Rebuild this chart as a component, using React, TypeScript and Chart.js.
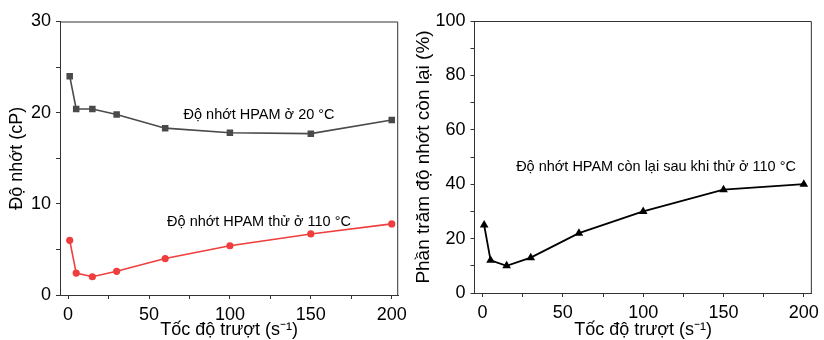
import React, { useEffect, useRef } from 'react';
import { Chart, registerables } from 'chart.js';

Chart.register(...registerables);

// ---- Data ----
const shearRates = [1, 5, 15, 30, 60, 100, 150, 200];
const viscosity20C = [24.0, 20.4, 20.4, 19.8, 18.3, 17.8, 17.7, 19.2];
const viscosity110C = [6.0, 2.4, 2.0, 2.6, 4.0, 5.4, 6.7, 7.8];
const remainingPercent = [25, 12, 10, 13, 22, 30, 38, 40];

const xTickValues = [0, 25, 50, 75, 100, 125, 150, 175, 200];
const leftYTickValues = [0, 5, 10, 15, 20, 25, 30];
const rightYTickValues = [0, 10, 20, 30, 40, 50, 60, 70, 80, 90, 100];

const xTitle = 'Tốc độ trượt (s⁻¹)';
const leftYTitle = 'Độ nhớt (cP)';
const rightYTitle = 'Phần trăm độ nhớt còn lại (%)';
const label20C = 'Độ nhớt HPAM ở 20 °C';
const label110C = 'Độ nhớt HPAM thử ở 110 °C';
const labelRemain = 'Độ nhớt HPAM còn lại sau khi thử ở 110 °C';

const FONT = "'Liberation Sans', Arial, sans-serif";
const AXIS_COLOR = '#333333';

const framePlugin = {
  id: 'frame',
  afterDraw(chart: any) {
    const { ctx, chartArea } = chart;
    ctx.save();
    ctx.strokeStyle = AXIS_COLOR;
    ctx.lineWidth = 1;
    ctx.beginPath();
    ctx.moveTo(chartArea.left, chartArea.top + 0.5);
    ctx.lineTo(chartArea.right - 0.5, chartArea.top + 0.5);
    ctx.lineTo(chartArea.right - 0.5, chartArea.bottom);
    ctx.stroke();
    ctx.restore();
  },
};

const annotPlugin = {
  id: 'annot',
  afterDatasetsDraw(chart: any, _args: any, opts: any) {
    const items = (opts && opts.items) || [];
    const { ctx, scales } = chart;
    ctx.save();
    for (const it of items) {
      ctx.font = `${it.size}px ${FONT}`;
      ctx.fillStyle = '#000';
      ctx.textAlign = 'center';
      ctx.textBaseline = 'middle';
      ctx.fillText(it.text, scales.x.getPixelForValue(it.x), scales.y.getPixelForValue(it.y));
    }
    ctx.restore();
  },
};

function makeScales(cfg: {
  xMin: number; xMax: number; yMax: number; yTicks: number[]; yLabelEvery: number;
  yTitle: string; yTitleSize: number; yWidth: number; xHeight: number; yTitlePad: number;
}) {
  return {
    x: {
      type: 'linear',
      min: cfg.xMin,
      max: cfg.xMax,
      afterBuildTicks: (scale: any) => { scale.ticks = xTickValues.map((v) => ({ value: v })); },
      afterFit: (scale: any) => { scale.height = cfg.xHeight; },
      ticks: {
        autoSkip: false,
        maxRotation: 0,
        padding: 5,
        color: '#000',
        font: { family: FONT, size: 18 },
        callback: (v: any) => (Number(v) % 50 === 0 ? String(v) : ''),
      },
      grid: { display: true, drawOnChartArea: false, drawTicks: true, tickLength: 4, color: AXIS_COLOR },
      border: { display: true, color: AXIS_COLOR, width: 1 },
      title: { display: true, text: xTitle, color: '#000', font: { family: FONT, size: 18, lineHeight: 1.1 }, padding: { top: 0, bottom: 0 } },
    },
    y: {
      type: 'linear',
      min: 0,
      max: cfg.yMax,
      afterBuildTicks: (scale: any) => { scale.ticks = cfg.yTicks.map((v) => ({ value: v })); },
      afterFit: (scale: any) => { scale.width = cfg.yWidth; },
      ticks: {
        autoSkip: false,
        padding: 5,
        color: '#000',
        font: { family: FONT, size: 18 },
        callback: (v: any) => (Number(v) % cfg.yLabelEvery === 0 ? String(v) : ''),
      },
      grid: { display: true, drawOnChartArea: false, drawTicks: true, tickLength: 4, color: AXIS_COLOR },
      border: { display: true, color: AXIS_COLOR, width: 1 },
      title: { display: true, text: cfg.yTitle, color: '#000', font: { family: FONT, size: cfg.yTitleSize }, padding: { top: cfg.yTitlePad, bottom: 0 } },
    },
  };
}

function LeftChart() {
  const ref = useRef<HTMLCanvasElement>(null);
  useEffect(() => {
    const chart = new Chart(ref.current as HTMLCanvasElement, {
      type: 'line',
      data: {
        datasets: [
          {
            label: label20C,
            data: shearRates.map((x, i) => ({ x, y: viscosity20C[i] })),
            borderColor: '#4a4a4a',
            backgroundColor: '#4a4a4a',
            borderWidth: 1.6,
            pointStyle: 'rect',
            pointRadius: 4.6,
            pointBorderWidth: 0,
            tension: 0,
          },
          {
            label: label110C,
            data: shearRates.map((x, i) => ({ x, y: viscosity110C[i] })),
            borderColor: '#ef3e3e',
            backgroundColor: '#ef3e3e',
            borderWidth: 1.6,
            pointStyle: 'circle',
            pointRadius: 3.6,
            pointBorderWidth: 0,
            tension: 0,
          },
        ],
      },
      options: {
        responsive: false,
        animation: false,
        layout: { padding: { top: 21.5, right: 13, bottom: 0, left: 0 } },
        scales: makeScales({
          xMin: -5, xMax: 204, yMax: 30, yTicks: leftYTickValues, yLabelEvery: 10,
          yTitle: leftYTitle, yTitleSize: 18, yWidth: 60, xHeight: 45, yTitlePad: 6,
        }) as any,
        plugins: {
          legend: { display: false },
          tooltip: { enabled: false },
          annot: {
            items: [
              { text: label20C, x: 118, y: 19.7, size: 14.5 },
              { text: label110C, x: 118, y: 8.0, size: 14.5 },
            ],
          },
        } as any,
      },
      plugins: [framePlugin, annotPlugin],
    } as any);
    return () => chart.destroy();
  }, []);
  return <canvas ref={ref} width={412} height={340} style={{ display: 'block' }} />;
}

function RightChart() {
  const ref = useRef<HTMLCanvasElement>(null);
  useEffect(() => {
    const chart = new Chart(ref.current as HTMLCanvasElement, {
      type: 'line',
      data: {
        datasets: [
          {
            label: labelRemain,
            data: shearRates.map((x, i) => ({ x, y: remainingPercent[i] })),
            borderColor: '#000000',
            backgroundColor: '#000000',
            borderWidth: 1.8,
            pointStyle: 'triangle',
            pointRadius: 5,
            pointBorderWidth: 0,
            tension: 0,
          },
        ],
      },
      options: {
        responsive: false,
        animation: false,
        layout: { padding: { top: 21, right: 7, bottom: 0, left: 0 } },
        scales: makeScales({
          xMin: -5, xMax: 205, yMax: 100, yTicks: rightYTickValues, yLabelEvery: 20,
          yTitle: rightYTitle, yTitleSize: 19, yWidth: 62.5, xHeight: 47, yTitlePad: 0,
        }) as any,
        plugins: {
          legend: { display: false },
          tooltip: { enabled: false },
          annot: {
            items: [{ text: labelRemain, x: 108, y: 46.3, size: 14.5 }],
          },
        } as any,
      },
      plugins: [framePlugin, annotPlugin],
    } as any);
    return () => chart.destroy();
  }, []);
  return <canvas ref={ref} width={412} height={340} style={{ display: 'block' }} />;
}

export default function App() {
  return (
    <div
      style={{
        position: 'absolute',
        left: 0,
        top: 0,
        width: 824,
        height: 340,
        display: 'flex',
        background: '#fff',
      }}
    >
      <LeftChart />
      <RightChart />
    </div>
  );
}
